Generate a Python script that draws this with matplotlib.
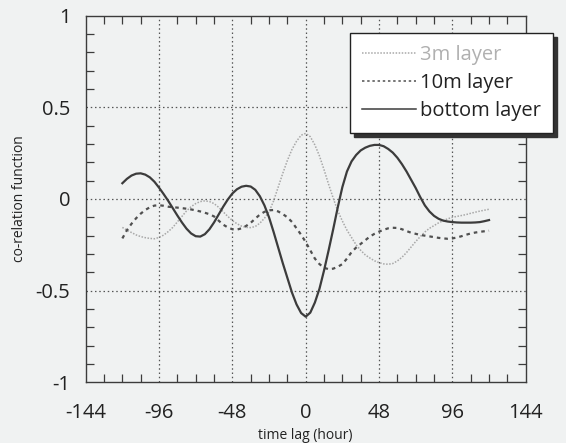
import matplotlib.pyplot as plt
from matplotlib.ticker import MultipleLocator

plt.rcParams['font.family'] = ['Open Sans', 'DejaVu Sans']
plt.rcParams['axes.unicode_minus'] = False

# time lag in hours, every 3 h
lag = list(range(-120, 121, 3))

layer_3m = [-0.155, -0.17, -0.183, -0.196, -0.205, -0.211, -0.215, -0.217,
            -0.21, -0.197, -0.178, -0.155, -0.125, -0.095, -0.065, -0.042,
            -0.025, -0.014, -0.01, -0.014, -0.025, -0.045, -0.07, -0.095,
            -0.117, -0.135, -0.148, -0.155, -0.156, -0.15, -0.132, -0.105,
            -0.07, -0.01, 0.065, 0.14, 0.21, 0.27, 0.315, 0.348, 0.358,
            0.34, 0.295, 0.235, 0.16, 0.08, 0.005, -0.065, -0.12, -0.17,
            -0.21, -0.25, -0.28, -0.305, -0.322, -0.337, -0.347, -0.354,
            -0.356, -0.352, -0.338, -0.318, -0.292, -0.262, -0.232, -0.205,
            -0.18, -0.16, -0.145, -0.13, -0.118, -0.108, -0.1, -0.095, -0.09,
            -0.085, -0.078, -0.072, -0.066, -0.061, -0.056]

layer_10m = [-0.215, -0.17, -0.135, -0.105, -0.08, -0.06, -0.045, -0.036,
             -0.034, -0.037, -0.042, -0.045, -0.047, -0.05, -0.053, -0.057,
             -0.062, -0.068, -0.075, -0.083, -0.095, -0.118, -0.14, -0.155,
             -0.165, -0.167, -0.16, -0.147, -0.13, -0.107, -0.085, -0.07,
             -0.062, -0.06, -0.068, -0.082, -0.10, -0.125, -0.16, -0.195,
             -0.235, -0.28, -0.325, -0.355, -0.375, -0.383, -0.38, -0.37,
             -0.355, -0.325, -0.29, -0.265, -0.245, -0.225, -0.205, -0.19,
             -0.178, -0.168, -0.16, -0.157, -0.158, -0.165, -0.175, -0.184,
             -0.19, -0.196, -0.20, -0.204, -0.208, -0.212, -0.215, -0.217,
             -0.215, -0.21, -0.203, -0.195, -0.188, -0.183, -0.179, -0.176,
             -0.173]

layer_bottom = [0.086, 0.11, 0.128, 0.138, 0.140, 0.133, 0.118, 0.094, 0.062,
                0.027, -0.01, -0.05, -0.09, -0.128, -0.162, -0.188, -0.203,
                -0.205, -0.192, -0.165, -0.128, -0.085, -0.042, -0.003, 0.030,
                0.053, 0.067, 0.072, 0.068, 0.05, 0.015, -0.035, -0.10, -0.18,
                -0.265, -0.35, -0.43, -0.51, -0.575, -0.622, -0.642, -0.62,
                -0.565, -0.49, -0.39, -0.28, -0.165, -0.045, 0.065, 0.15, 0.205,
                0.24, 0.265, 0.28, 0.29, 0.295, 0.295, 0.288, 0.273, 0.253,
                0.225, 0.19, 0.15, 0.105, 0.06, 0.01, -0.035, -0.068, -0.092,
                -0.108, -0.118, -0.123, -0.126, -0.128, -0.129, -0.129, -0.129,
                -0.128, -0.126, -0.121, -0.115]

xticks = [-144, -96, -48, 0, 48, 96, 144]
yticks = [-1, -0.5, 0, 0.5, 1]
ytick_labels = ['-1', '-0.5', '0', '0.5', '1']

paper = '#f0f2f2'
ink = '#3c3c3c'

fig = plt.figure(figsize=(5.66, 4.43), dpi=100, facecolor=paper)
ax = fig.add_axes([0.1514, 0.137, 0.7774, 0.8276], facecolor=paper)

ax.plot(lag, layer_3m, color='#a8a8a8', lw=1.1, ls=(0, (1, 1)), label='3m layer')
ax.plot(lag, layer_10m, color='#505050', lw=1.6, ls=(0, (1.6, 1.8)), label='10m layer')
ax.plot(lag, layer_bottom, color=ink, lw=1.6, label='bottom layer')

ax.set_xlim(-144, 144)
ax.set_ylim(-1, 1)
ax.set_xticks(xticks)
ax.set_xticklabels([str(t) for t in xticks])
ax.set_yticks(yticks)
ax.set_yticklabels(ytick_labels)
ax.xaxis.set_minor_locator(MultipleLocator(12))
ax.yaxis.set_minor_locator(MultipleLocator(0.1))

ax.tick_params(which='both', direction='in', top=True, right=True,
               color=ink, width=0.9)
ax.tick_params(which='major', length=0)
ax.tick_params(which='minor', length=5.5)
ax.tick_params(axis='x', which='major', labelsize=14.5, pad=15, labelcolor='#222')
ax.tick_params(axis='y', which='major', labelsize=14.5, pad=11, labelcolor='#222')

for s in ax.spines.values():
    s.set_color(ink)
    s.set_linewidth(1.0)

# dotted grid only at the interior major ticks
for x in xticks[1:-1]:
    ax.axvline(x, color='#555', lw=0.9, ls=(0, (1.2, 2.2)), zorder=0)
for y in yticks[1:-1]:
    ax.axhline(y, color='#555', lw=0.9, ls=(0, (1.2, 2.2)), zorder=0)

ax.set_xlabel('time lag (hour)', fontsize=10, color='#222')
ax.set_ylabel('co-relation function', fontsize=10, color='#222', va='center')
ax.xaxis.set_label_coords(0.5, -0.125)
ax.yaxis.set_label_coords(-0.15, 0.5)

leg = ax.legend(loc='upper left', bbox_to_anchor=(0.618, 0.9255),
                bbox_transform=fig.transFigure, fontsize=14.5,
                borderaxespad=0, frameon=True, fancybox=False, framealpha=1,
                edgecolor='#222', facecolor='white', borderpad=0.6,
                labelspacing=0.4, handlelength=2.7, handletextpad=0.2,
                shadow={'ox': 3, 'oy': -3, 'facecolor': '#333', 'edgecolor': '#333', 'alpha': 1})
leg.get_frame().set_linewidth(1.0)
leg.set_clip_on(False)
leg.get_texts()[0].set_color('#b0b0b0')
for t in leg.get_texts()[1:]:
    t.set_color('#222')
for h in leg.get_lines():
    h.set_linewidth(1.1)

fig.savefig('out.png', dpi=100, facecolor=paper)
